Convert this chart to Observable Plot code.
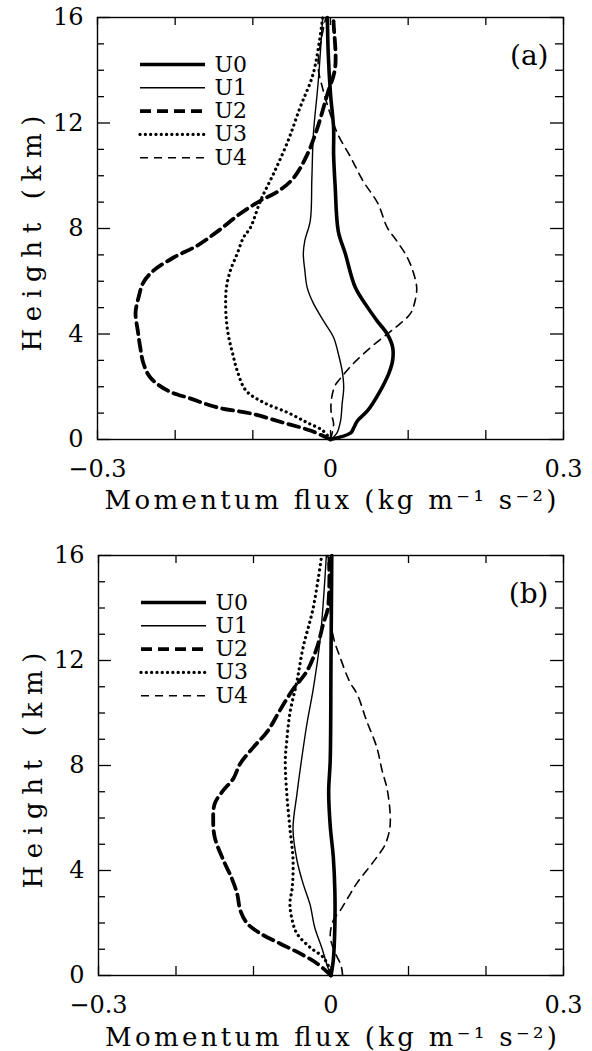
<!DOCTYPE html>
<html><head><meta charset="utf-8">
<script src="https://cdn.jsdelivr.net/npm/d3@7"></script>
<script src="https://cdn.jsdelivr.net/npm/@observablehq/plot@0.6"></script>
<style>
body{margin:0;background:#fff;}
svg{display:block;}
</style></head>
<body><div id="a"></div><div id="b"></div>
<script>
// ---------- data ----------
const seriesNames = ["U0","U1","U2","U3","U4"];
const xDomain = [-0.3, 0.3];
const yDomain = [0, 16];
const xTicks = [-0.3,-0.2,-0.1,0,0.1,0.2,0.3];
const xTickLabels = [-0.3, 0, 0.3];
const yTicks = [0,1,2,3,4,5,6,7,8,9,10,11,12,13,14,15,16];
const yTickLabels = [0, 4, 8, 12, 16];
const xLabel = "Momentum flux (kg m⁻¹ s⁻²)";
const yLabel = "Height (km)";
const panelTags = ["(a)", "(b)"];

// panel (a)
const aU0_h = [0, 0.25, 0.45, 0.72, 1.1, 1.74, 2.5, 3.0, 3.5, 4.0, 4.5, 5.0, 5.76, 7.05, 7.9, 9.6, 10.8, 11.8, 13.1, 14.7, 16];
const aU0_v = [0, 0.026, 0.030, 0.035, 0.048, 0.062, 0.075, 0.080, 0.080, 0.073, 0.060, 0.048, 0.032, 0.019, 0.010, 0.006, 0.004, 0.004, 0.0, -0.003, -0.004];
const aU1_h = [0, 0.23, 0.72, 1.36, 1.97, 2.6, 3.26, 3.87, 4.5, 5.16, 5.76, 6.4, 7.05, 7.55, 8.3, 9.9, 11.6, 13.5, 16];
const aU1_v = [0, 0.008, 0.013, 0.015, 0.017, 0.015, 0.010, 0.004, -0.009, -0.022, -0.030, -0.033, -0.035, -0.033, -0.026, -0.024, -0.022, -0.016, -0.010];
const aU2_h = [0, 0.34, 0.64, 0.99, 1.21, 1.55, 1.86, 2.35, 2.9, 3.5, 4.1, 4.8, 5.4, 5.95, 6.4, 6.9, 7.36, 7.9, 8.57, 9.06, 9.4, 9.9, 10.8, 11.8, 13.1, 14.1, 15.8, 16];
const aU2_v = [0, -0.026, -0.061, -0.103, -0.145, -0.180, -0.210, -0.232, -0.241, -0.245, -0.248, -0.251, -0.247, -0.241, -0.228, -0.202, -0.171, -0.145, -0.116, -0.090, -0.068, -0.048, -0.030, -0.017, -0.004, 0.006, 0.004, 0.004];
const aU3_h = [0, 0.34, 0.64, 1.02, 1.4, 1.86, 2.6, 3.26, 3.87, 4.5, 5.16, 5.76, 6.4, 7.05, 7.66, 8.04, 9.06, 10.1, 11.3, 12.6, 13.9, 16];
const aU3_v = [0, -0.010, -0.030, -0.055, -0.086, -0.109, -0.120, -0.126, -0.131, -0.134, -0.135, -0.134, -0.129, -0.120, -0.112, -0.103, -0.090, -0.073, -0.055, -0.039, -0.022, -0.010];
const aU4_h = [0, 0.6, 0.99, 1.48, 2.05, 2.43, 2.9, 3.5, 4.0, 4.4, 4.78, 5.27, 5.76, 6.3, 6.9, 7.5, 8.04, 8.95, 9.8, 10.7, 11.6, 12.5, 13.3, 14.2, 16];
const aU4_v = [0, 0.004, 0.001, 0.001, 0.006, 0.016, 0.030, 0.052, 0.073, 0.090, 0.103, 0.109, 0.111, 0.107, 0.099, 0.086, 0.073, 0.061, 0.042, 0.026, 0.009, -0.002, -0.010, -0.016, -0.006];

// panel (b)
const bU0_h = [0, 0.6, 1.9, 3.2, 4.5, 5.7, 7.0, 8.2, 12, 16];
const bU0_v = [0, 0.003, 0.005, 0.005, 0.003, -0.001, -0.003, -0.001, 0.0, 0.001];
const bU1_h = [0, 0.3, 1.07, 1.83, 2.7, 3.5, 4.4, 5.6, 6.9, 7.8, 9.6, 10.9, 12.8, 16];
const bU1_v = [0, -0.004, -0.012, -0.021, -0.027, -0.036, -0.044, -0.049, -0.044, -0.040, -0.031, -0.023, -0.014, -0.006];
const bU2_h = [0, 0.46, 0.84, 1.22, 1.6, 1.98, 2.48, 3.1, 3.7, 4.4, 5.26, 5.9, 6.55, 7.05, 7.5, 8.08, 8.7, 9.3, 10.1, 10.9, 11.6, 12.5, 13.4, 14.0, 16];
const bU2_v = [0, -0.018, -0.040, -0.066, -0.091, -0.108, -0.117, -0.121, -0.128, -0.139, -0.150, -0.152, -0.150, -0.139, -0.126, -0.117, -0.100, -0.082, -0.066, -0.049, -0.031, -0.018, -0.010, -0.004, -0.002];
const bU3_h = [0, 0.19, 0.69, 1.07, 1.6, 2.1, 2.74, 3.35, 4.4, 5.6, 6.9, 8.2, 8.95, 10.0, 11.2, 12.5, 14.0, 16];
const bU3_v = [0, -0.001, -0.010, -0.027, -0.044, -0.050, -0.053, -0.050, -0.049, -0.053, -0.057, -0.059, -0.057, -0.053, -0.044, -0.036, -0.023, -0.012];
const bU4_h = [0, 0.38, 0.95, 1.5, 2.1, 2.48, 2.97, 3.5, 4.0, 4.5, 5.0, 5.64, 6.3, 7.16, 7.8, 8.7, 9.7, 10.7, 11.2, 12.1, 12.9, 14.0, 16];
const bU4_v = [0.015, 0.013, 0.004, -0.001, 0.003, 0.012, 0.022, 0.033, 0.046, 0.059, 0.070, 0.076, 0.076, 0.072, 0.066, 0.059, 0.046, 0.034, 0.024, 0.012, 0.003, -0.001, -0.004];

// ---------- styles ----------
const styles = {
  U0: {stroke: "#000", strokeWidth: 3.6},
  U1: {stroke: "#000", strokeWidth: 1.4},
  U2: {stroke: "#000", strokeWidth: 3.8, strokeDasharray: "11,6"},
  U3: {stroke: "#000", strokeWidth: 3.2, strokeDasharray: "0.1,5.2", strokeLinecap: "round"},
  U4: {stroke: "#000", strokeWidth: 1.6, strokeDasharray: "8,6"}
};
const FONT = "'DejaVu Serif', 'Liberation Serif', serif";

function fmt(d) { return d === 0 ? "0" : (d < 0 ? "−" : "") + Math.abs(d); }

function panel(el, tag, series, L) {
  const W = 592;
  const innerH = L.height - L.mt - L.mb;
  const innerW = W - L.ml - L.mr;
  const marks = [];
  seriesNames.forEach(name => {
    const s = series[name];
    const rows = s.h.map((h, j) => ({h, v: s.v[j]}));
    marks.push(Plot.line(rows, {x: "v", y: "h", curve: "catmull-rom", ...styles[name]}));
  });
  marks.push(Plot.frame({stroke: "#000", strokeWidth: 1.4}));
  marks.push(Plot.tickX(xTicks, {x: d => d, insetTop: innerH - 9, strokeWidth: 1.3}));
  marks.push(Plot.tickX(xTicks, {x: d => d, insetBottom: innerH - 8, strokeWidth: 1.3}));
  const major = yTicks.filter(d => yTickLabels.includes(d));
  const minor = yTicks.filter(d => !yTickLabels.includes(d));
  marks.push(Plot.tickY(major, {y: d => d, insetRight: innerW - 13, strokeWidth: 1.3}));
  marks.push(Plot.tickY(minor, {y: d => d, insetRight: innerW - 7, strokeWidth: 1.3}));
  marks.push(Plot.tickY(major, {y: d => d, insetLeft: innerW - 13, strokeWidth: 1.3}));
  marks.push(Plot.tickY(minor, {y: d => d, insetLeft: innerW - 8, strokeWidth: 1.3}));
  seriesNames.forEach((name, i) => {
    const dy = L.legTop + i * L.legStep;
    marks.push(Plot.ruleY([yDomain[1]], {y: d => d, dy, insetLeft: 43, insetRight: innerW - 108, ...styles[name]}));
    marks.push(Plot.text([name], {text: d => d, frameAnchor: "top-left", dx: 117, dy, textAnchor: "start", lineAnchor: "middle", fontSize: 22}));
  });
  marks.push(Plot.text([tag], {text: d => d, frameAnchor: "top-right", dx: -15, dy: 39, textAnchor: "end", lineAnchor: "middle", fontSize: 28}));
  marks.push(Plot.text([yLabel], {text: d => d, frameAnchor: "left", dx: -57, dy: 5, rotate: -90, textAnchor: "middle", lineAnchor: "bottom", fontSize: 26}));
  marks.push(Plot.text([xLabel], {text: d => d, frameAnchor: "bottom", dy: L.xlabDy, textAnchor: "middle", lineAnchor: "bottom", fontSize: 26}));

  const chart = Plot.plot({
    width: W, height: L.height,
    marginTop: L.mt, marginBottom: L.mb, marginLeft: L.ml, marginRight: L.mr,
    style: {fontFamily: FONT, fontSize: "24px", background: "#fff", color: "#000"},
    x: {domain: xDomain, ticks: xTickLabels, tickFormat: fmt, tickSize: 0, tickPadding: L.xPad, label: null},
    y: {domain: yDomain, ticks: yTickLabels, tickFormat: fmt, tickSize: 0, tickPadding: 14, label: null},
    marks
  });
  d3.select(chart).selectAll("text").each(function() {
    const t = this.textContent;
    if (t === yLabel) { this.setAttribute("textLength", 236); this.setAttribute("lengthAdjust", "spacing"); }
    if (t === xLabel) { this.setAttribute("textLength", 452); this.setAttribute("lengthAdjust", "spacing"); }
  });
  document.getElementById(el).appendChild(chart);
}

const seriesA = {
  U0: {h: aU0_h, v: aU0_v}, U1: {h: aU1_h, v: aU1_v}, U2: {h: aU2_h, v: aU2_v},
  U3: {h: aU3_h, v: aU3_v}, U4: {h: aU4_h, v: aU4_v}
};
const seriesB = {
  U0: {h: bU0_h, v: bU0_v}, U1: {h: bU1_h, v: bU1_v}, U2: {h: bU2_h, v: bU2_v},
  U3: {h: bU3_h, v: bU3_v}, U4: {h: bU4_h, v: bU4_v}
};

panel("a", panelTags[0], seriesA, {height: 530, mt: 17, mb: 91, ml: 97, mr: 29, legTop: 47, legStep: 23.3, xPad: 20, xlabDy: 69});
panel("b", panelTags[1], seriesB, {height: 521, mt: 25, mb: 76, ml: 98, mr: 29, legTop: 47, legStep: 23.3, xPad: 20, xlabDy: 70});
</script>
</body></html>
